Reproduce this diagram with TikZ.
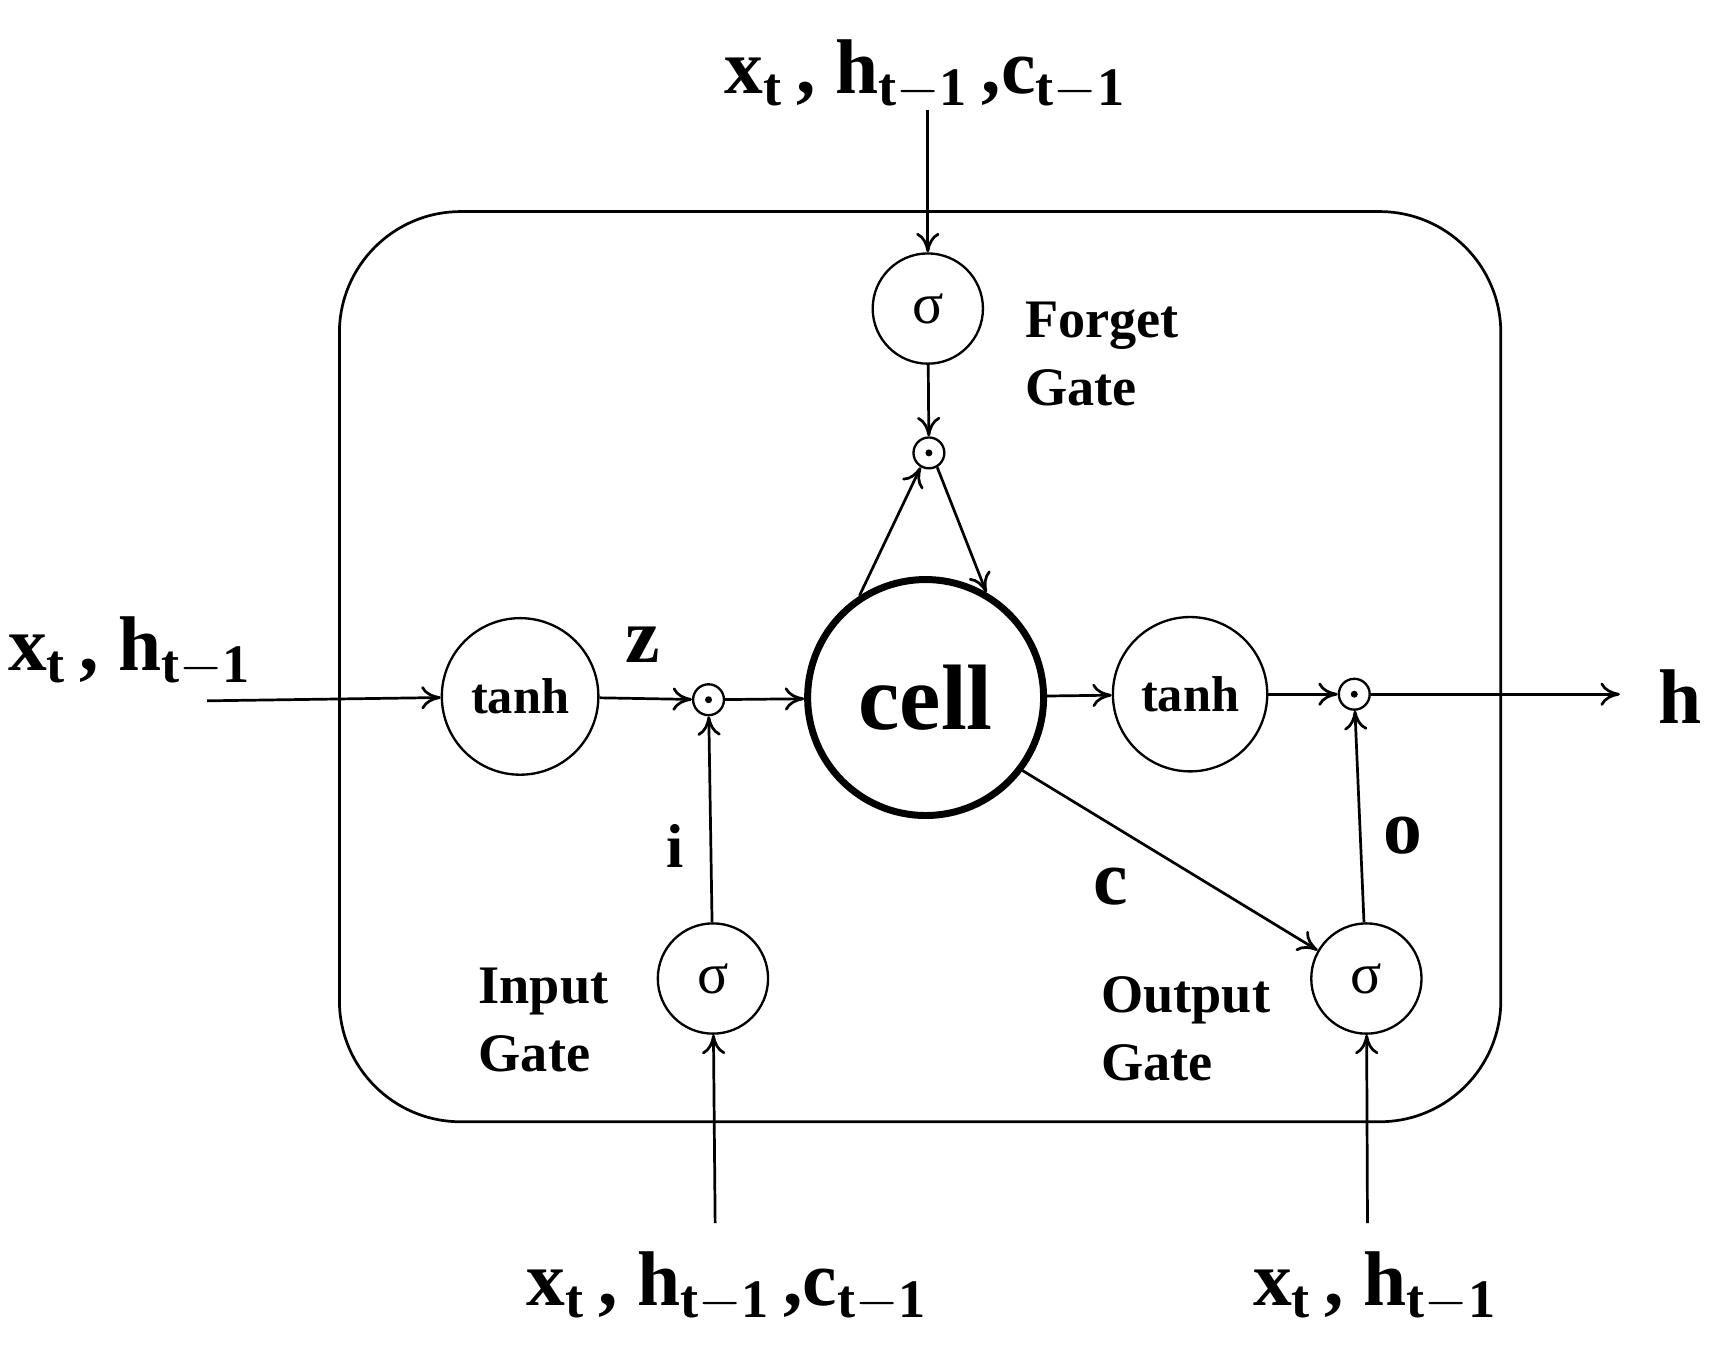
\documentclass[tikz,border=0pt]{standalone}
\usepackage{fontspec}
\setmainfont{Liberation Serif}
\usetikzlibrary{arrows.meta}
\begin{document}
\begin{tikzpicture}[x=0.01cm,y=-0.01cm,
  circ/.style={draw,circle,inner sep=0pt,line width=0.6pt},
  dotn/.style={circ,minimum size=0.28cm,path picture={\fill (path picture bounding box.center) circle (0.9pt);}},
  lab/.style={font=\bfseries\fontsize{20}{22}\selectfont},
  gl/.style={font=\bfseries\fontsize{14}{17.5}\selectfont,align=left,anchor=north west},
  arr/.style={-{To[length=5pt,width=6pt]},line width=0.7pt}]
\useasboundingbox (0,0) rectangle (1560,1233);
\draw[line width=0.7pt,rounded corners=1.1cm] (308,192) rectangle (1362,1018);
\node[circ,minimum size=1cm] (fs) at (842,280) {\fontsize{15}{15}\selectfont σ};
\node[dotn] (fd) at (843,411) {};
\node[circ,line width=1.8pt,minimum size=2.14cm] (cell) at (840,633) {\bfseries\fontsize{24}{26}\selectfont cell};
\node[circ,minimum size=1.42cm] (lt) at (472,632) {\bfseries\fontsize{13}{13}\selectfont tanh};
\node[dotn] (ld) at (643,635) {};
\node[circ,minimum size=1.4cm] (rt) at (1080,630) {\bfseries\fontsize{13}{13}\selectfont tanh};
\node[dotn] (rd) at (1229,630) {};
\node[circ,minimum size=1cm] (is) at (647,888) {\fontsize{15}{15}\selectfont σ};
\node[circ,minimum size=1cm] (os) at (1240,888) {\fontsize{15}{15}\selectfont σ};
\node[lab] (top) at (840,68) {x$_\mathbf{t}$\,, h$_\mathbf{t-1}$\,,c$_\mathbf{t-1}$};
\node[lab] (left) at (118,592) {x$_\mathbf{t}$\,, h$_\mathbf{t-1}$};
\node[lab] (bl) at (660,1168) {x$_\mathbf{t}$\,, h$_\mathbf{t-1}$\,,c$_\mathbf{t-1}$};
\node[lab] (br) at (1248,1168) {x$_\mathbf{t}$\,, h$_\mathbf{t-1}$};
\node[lab] (h) at (1525,632) {h};
\node[lab] (z) at (583,585) {z};
\node[lab,font=\bfseries\fontsize{16}{16}\selectfont] (i) at (613,768) {i};
\node[lab] (c) at (1008,805) {c};
\node[lab] (o) at (1273,758) {o};
\node[gl] (fg) at (918,262) {Forget\\Gate};
\node[gl] (ig) at (422,866) {Input\\Gate};
\node[gl] (og) at (987,874) {Output\\Gate};
\coordinate (lin) at (188,636);
\coordinate (hout) at (1470,630);
\coordinate (ttop) at (842,100);
\coordinate (bli) at (649,1110);
\coordinate (bri) at (1241,1110);
\draw[arr] (ttop) -- (fs);
\draw[arr] (fs) -- (fd);
\draw[arr] (cell.123) -- (fd.240);
\draw[arr] (fd.300) -- (cell.60);
\draw[arr] (lin) -- (lt);
\draw[arr] (lt) -- (ld);
\draw[arr] (ld) -- (cell);
\draw[arr] (cell) -- (rt);
\draw[arr] (rt) -- (rd);
\draw[arr] (rd) -- (hout);
\draw[arr] (is) -- (ld);
\draw[arr] (os) -- (rd);
\draw[arr] (cell.-37) -- (os.150);
\draw[arr] (bli) -- (is);
\draw[arr] (bri) -- (os);
\end{tikzpicture}
\end{document}
